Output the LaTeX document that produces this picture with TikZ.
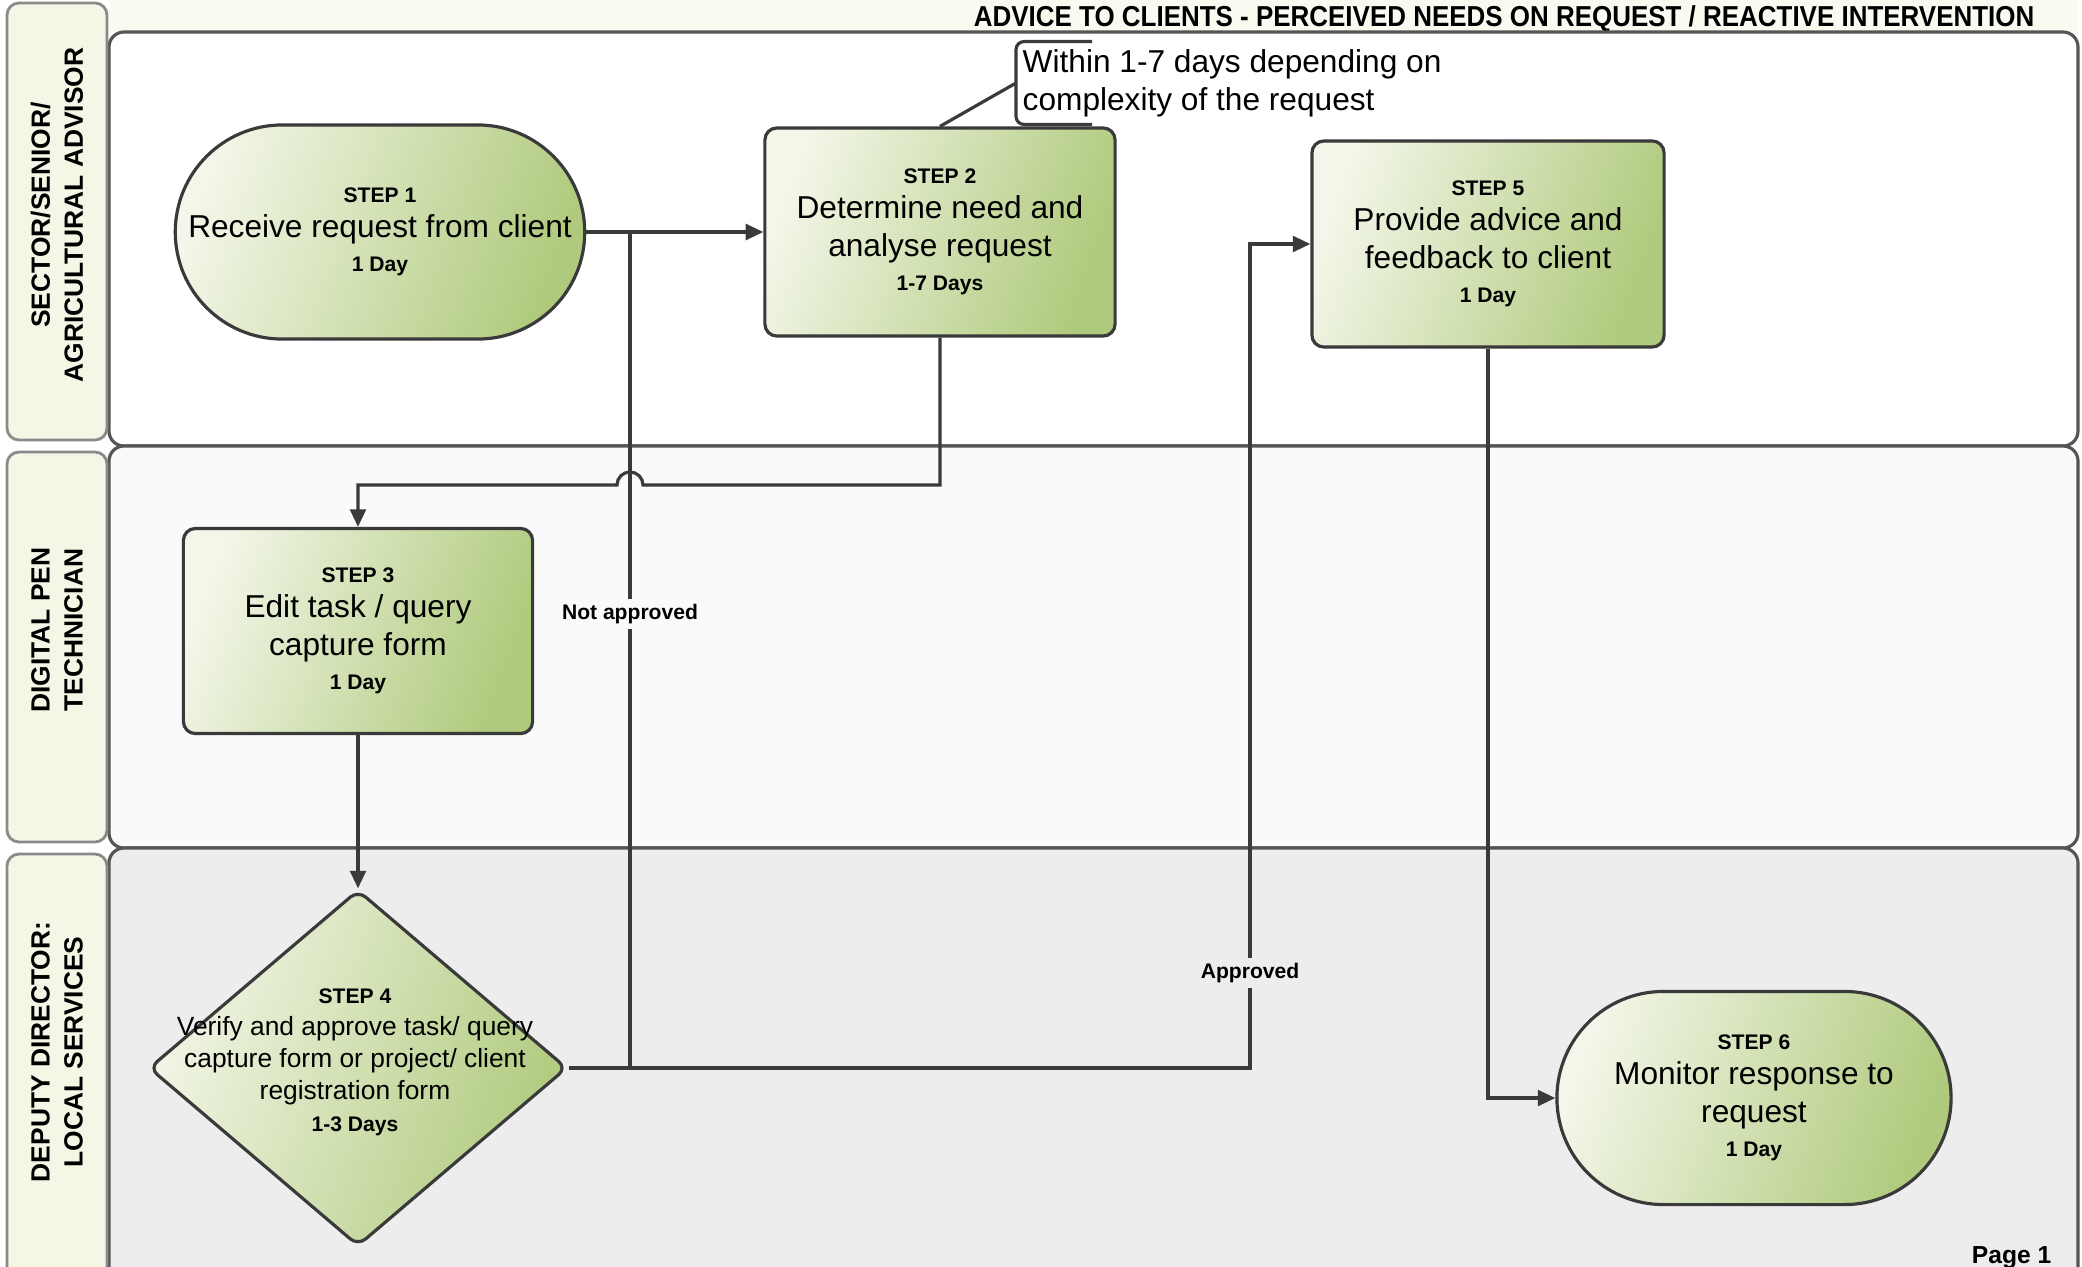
\documentclass[tikz,border=0pt]{standalone}
\usepackage{fontspec}
\setmainfont{Liberation Sans}
\usepackage{graphicx}
\usetikzlibrary{shapes.misc,shapes.geometric,arrows.meta,calc}
\definecolor{edgec}{HTML}{3A3A3A}
\definecolor{gdark}{HTML}{AFCA7C}
\definecolor{glight}{HTML}{F3F6E8}
\definecolor{lanecream}{HTML}{F5F7E6}
\definecolor{lanegray}{HTML}{EDEDED}
\definecolor{laneline}{HTML}{555555}
\definecolor{labelline}{HTML}{8A8A8A}
\newcommand{\stp}[1]{{\fontsize{6}{7}\selectfont\bfseries #1}}
\begin{document}
\begin{tikzpicture}[x=0.01cm,y=-0.01cm,
  stepfill/.style={left color=glight, right color=gdark, shading angle=70},
  procbox/.style={draw=edgec, line width=0.9pt, rounded corners=0.12cm, stepfill,
    align=center, font=\fontsize{9}{9.8}\selectfont, inner sep=1pt},
  termbox/.style={rounded rectangle, draw=edgec, line width=0.9pt, stepfill,
    align=center, font=\fontsize{9}{9.8}\selectfont, inner sep=1pt},
  decbox/.style={diamond, draw=edgec, line width=0.9pt, rounded corners=0.1cm, stepfill,
    minimum width=4.18cm, minimum height=3.56cm, inner sep=0pt},
  lanebox/.style={draw=laneline, line width=0.9pt, rounded corners=0.15cm},
  labbox/.style={draw=labelline, fill=lanecream, line width=0.8pt, rounded corners=0.12cm},
  lanetext/.style={rotate=90, align=center, font=\fontsize{7.5}{9.4}\selectfont\bfseries},
  line/.style={draw=edgec, line width=0.9pt},
  conn/.style={line, -{Triangle[length=5pt,width=4.5pt]}},
  lbl/.style={font=\fontsize{6}{7}\selectfont\bfseries, inner sep=1.5pt}
]
\useasboundingbox (0,0) rectangle (2082,1266);
% header strip and title
\fill[color=lanecream!60!white] (109,0) rectangle (2078,32);
\node[anchor=base east, inner sep=0pt] (title) at (2035,26)
  {\scalebox{0.9}[1]{\fontsize{8.2}{9}\selectfont\bfseries ADVICE TO CLIENTS - PERCEIVED NEEDS ON REQUEST / REACTIVE INTERVENTION}};
% lanes
\path[lanebox, fill=white] (109,32) -- (2078,32) -- (2078,446) -- (109,446) -- cycle;
\path[lanebox, fill=white!98!black] (109,446) -- (2078,446) -- (2078,848) -- (109,848) -- cycle;
\path[lanebox, fill=lanegray] (109,848) -- (2078,848) -- (2078,1300) -- (109,1300) -- cycle;
\draw[labbox] (7,3) rectangle (107,440);
\draw[labbox] (7,452) rectangle (107,842);
\draw[labbox] (7,854) rectangle (107,1300);
\node[lanetext] (lab1) at (57,215) {SECTOR/SENIOR/\\AGRICULTURAL ADVISOR};
\node[lanetext] (lab2) at (57,630) {DIGITAL PEN\\TECHNICIAN};
\node[lanetext] (lab3) at (57,1052) {DEPUTY DIRECTOR:\\LOCAL SERVICES};
% steps
\node[termbox, minimum width=4.0cm, minimum height=2.14cm] (s1) at (380,232)
  {\stp{STEP 1}\\Receive request from client\\\stp{1 Day}};
\node[procbox, minimum width=3.5cm, minimum height=2.08cm] (s2) at (940,232)
  {\stp{STEP 2}\\Determine need and\\[1pt]analyse request\\\stp{1-7 Days}};
\node[procbox, minimum width=3.52cm, minimum height=2.06cm] (s5) at (1488,244)
  {\stp{STEP 5}\\Provide advice and\\[1pt]feedback to client\\\stp{1 Day}};
\node[procbox, minimum width=3.49cm, minimum height=2.05cm] (s3) at (358,631)
  {\stp{STEP 3}\\Edit task / query\\[1pt]capture form\\\stp{1 Day}};
\node[decbox] (s4) at (358,1068) {};
\node[align=center, font=\fontsize{7.5}{9.1}\selectfont, inner sep=0pt] (s4t) at (355,1062)
  {\stp{STEP 4}\\Verify and approve task/ query\\capture form or project/ client\\registration form\\\stp{1-3 Days}};
\node[termbox, minimum width=4.01cm, minimum height=2.13cm] (s6) at (1754,1098)
  {\stp{STEP 6}\\Monitor response to\\[1pt]request\\\stp{1 Day}};
% annotation
\node[anchor=west, align=left, font=\fontsize{9}{10.8}\selectfont, inner xsep=0.06cm, inner ysep=0.07cm] (ann) at (1016,83)
  {Within 1-7 days depending on\\complexity of the request};
\draw[line, rounded corners=0.08cm] ($(ann.north west)+(76,0)$) -- (ann.north west) -- (ann.south west) -- ($(ann.south west)+(76,0)$);
\draw[line] (s2.north) -- (ann.west);
% coordinates
\coordinate (j1) at (630,232);
\coordinate (j4) at (630,1068);
\coordinate (apc) at (1250,1068);
\coordinate (hopR) at (643,485);
% connectors
\draw[conn] (s1.east) -- (s2.west);
\draw[conn] (s2.south) |- (hopR) arc[start angle=0, end angle=180, radius=0.13cm] -| (s3.north);
\draw[conn] (s3.south) -- (s4.north);
\draw[line] (s4.east) -- (j4);
\draw[conn] (j4) -- (apc) |- (s5.west);
\draw[line] (j4) -- (j1);
\draw[conn] (s5.south) |- (s6.west);
% labels
\node[lbl, fill=white!98!black] (nap) at (630,614) {Not approved};
\node[lbl, fill=lanegray] (apl) at (1250,973) {Approved};
\node[anchor=base east, font=\fontsize{7}{8}\selectfont\bfseries, inner sep=0pt] (pg) at (2052,1263) {Page 1};
\end{tikzpicture}
\end{document}
